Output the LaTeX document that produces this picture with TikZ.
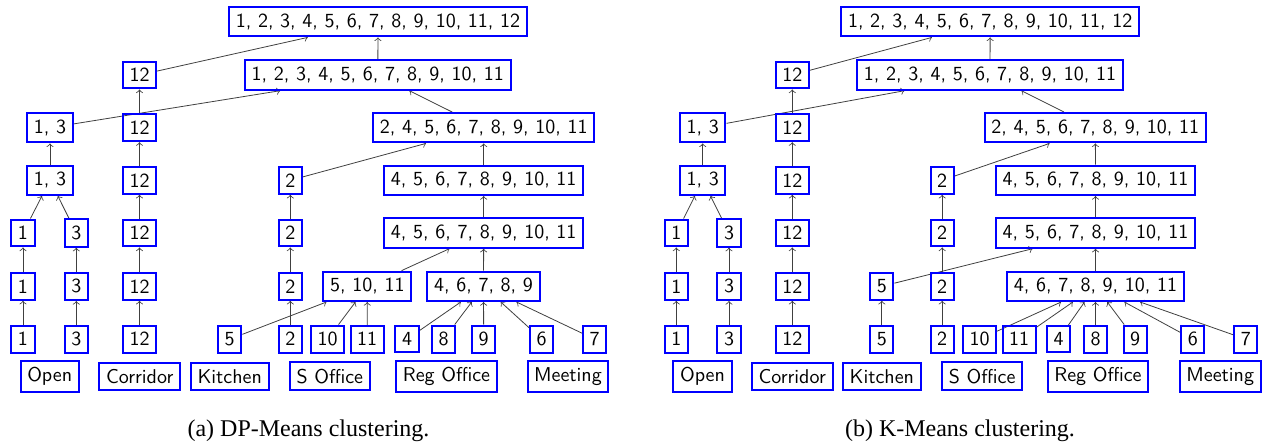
\documentclass[tikz,border=0pt]{standalone}
\usepackage{fontspec}
\newfontfamily\capfont{Liberation Serif}
\usepackage{tikz}
\usetikzlibrary{arrows,backgrounds}

\begin{document}
\begin{tikzpicture}[x=0.5pt,y=-0.5pt,
  clbox/.style={draw=blue,line width=1pt,font=\sffamily},
  link/.style={->,draw=black!75}]
\useasboundingbox (0,0) rectangle (1263,447);

% (a) DP-Means
\node[clbox] (aR) at (378,21.7) {1, 2, 3, 4, 5, 6, 7, 8, 9, 10, 11, 12};
\node[clbox] (aS) at (377.8,75) {1, 2, 3, 4, 5, 6, 7, 8, 9, 10, 11};
\node[clbox] (a12a) at (139.5,75) {12};
\node[clbox] (a13a) at (50,127.7) {1, 3};
\node[clbox] (a12b) at (139.5,127.7) {12};
\node[clbox] (aT) at (483.7,127.7) {2, 4, 5, 6, 7, 8, 9, 10, 11};
\node[clbox] (a13b) at (50,180.3) {1, 3};
\node[clbox] (a12c) at (139.5,180.3) {12};
\node[clbox] (a2a) at (290.3,180.3) {2};
\node[clbox] (aU) at (483.7,180.3) {4, 5, 6, 7, 8, 9, 10, 11};
\node[clbox] (a1a) at (23,233) {1};
\node[clbox] (a3a) at (76.3,233) {3};
\node[clbox] (a12d) at (139.5,233) {12};
\node[clbox] (a2b) at (290.3,233) {2};
\node[clbox] (aV) at (483.7,233) {4, 5, 6, 7, 8, 9, 10, 11};
\node[clbox] (a1b) at (23,286.3) {1};
\node[clbox] (a3b) at (76.3,286.3) {3};
\node[clbox] (a12e) at (139.5,286.3) {12};
\node[clbox] (a2c) at (290.3,286.3) {2};
\node[clbox] (aW) at (367.3,286.3) {5, 10, 11};
\node[clbox] (aX) at (483.5,286.3) {4, 6, 7, 8, 9};
\node[clbox] (a1c) at (23,339.2) {1};
\node[clbox] (a3c) at (76.3,339.2) {3};
\node[clbox] (a12f) at (139.5,339.2) {12};
\node[clbox] (a5) at (229.7,339.2) {5};
\node[clbox] (a2d) at (290.3,339.2) {2};
\node[clbox] (a10) at (327.5,339.2) {10};
\node[clbox] (a11) at (367.2,339.2) {11};
\node[clbox] (a4) at (407,339.2) {4};
\node[clbox] (a8) at (443.7,339.2) {8};
\node[clbox] (a9) at (483.7,339.2) {9};
\node[clbox] (a6) at (541.7,339.2) {6};
\node[clbox] (a7) at (594.7,339.2) {7};
\node[clbox] (aOpen) at (49.7,376.4) {Open};
\node[clbox] (aCorr) at (139.7,376.4) {Corridor};
\node[clbox] (aKit) at (229.7,376.4) {Kitchen};
\node[clbox] (aSOff) at (329.8,376.4) {S Office};
\node[clbox] (aReg) at (446.5,376.4) {Reg Office};
\node[clbox] (aMeet) at (568,376.4) {Meeting};

\begin{scope}[on background layer]
\draw[link] (a1c) -- (a1b); \draw[link] (a1b) -- (a1a); \draw[link] (a1a) -- (a13b);
\draw[link] (a3c) -- (a3b); \draw[link] (a3b) -- (a3a); \draw[link] (a3a) -- (a13b);
\draw[link] (a13b) -- (a13a); \draw[link] (a13a) -- (aS);
\draw[link] (a12f) -- (a12e); \draw[link] (a12e) -- (a12d); \draw[link] (a12d) -- (a12c);
\draw[link] (a12c) -- (a12b); \draw[link] (a12b) -- (a12a); \draw[link] (a12a) -- (aR);
\draw[link] (a2d) -- (a2c); \draw[link] (a2c) -- (a2b); \draw[link] (a2b) -- (a2a);
\draw[link] (a2a) -- (aT);
\draw[link] (a5) -- (aW); \draw[link] (a10) -- (aW); \draw[link] (a11) -- (aW);
\draw[link] (a4) -- (aX); \draw[link] (a8) -- (aX); \draw[link] (a9) -- (aX);
\draw[link] (a6) -- (aX); \draw[link] (a7) -- (aX);
\draw[link] (aW) -- (aV); \draw[link] (aX) -- (aV); \draw[link] (aV) -- (aU);
\draw[link] (aU) -- (aT); \draw[link] (aT) -- (aS); \draw[link] (aS) -- (aR);
\end{scope}

% (b) K-Means
\node[clbox] (bR) at (990.2,21.7) {1, 2, 3, 4, 5, 6, 7, 8, 9, 10, 11, 12};
\node[clbox] (bS) at (990,75) {1, 2, 3, 4, 5, 6, 7, 8, 9, 10, 11};
\node[clbox] (b12a) at (792.3,75) {12};
\node[clbox] (b13a) at (702.7,127.7) {1, 3};
\node[clbox] (b12b) at (792.3,127.7) {12};
\node[clbox] (bT) at (1095.3,127.7) {2, 4, 5, 6, 7, 8, 9, 10, 11};
\node[clbox] (b13b) at (702.7,180.3) {1, 3};
\node[clbox] (b12c) at (792.3,180.3) {12};
\node[clbox] (b2a) at (942.2,180.3) {2};
\node[clbox] (bU) at (1095.5,180.3) {4, 5, 6, 7, 8, 9, 10, 11};
\node[clbox] (b1a) at (676.3,233) {1};
\node[clbox] (b3a) at (729,233) {3};
\node[clbox] (b12d) at (792.3,233) {12};
\node[clbox] (b2b) at (942.2,233) {2};
\node[clbox] (bV) at (1095.5,233) {4, 5, 6, 7, 8, 9, 10, 11};
\node[clbox] (b1b) at (676.3,286.3) {1};
\node[clbox] (b3b) at (729,286.3) {3};
\node[clbox] (b12e) at (792.3,286.3) {12};
\node[clbox] (b5a) at (881.8,286.3) {5};
\node[clbox] (b2c) at (942.2,286.3) {2};
\node[clbox] (bX) at (1095.5,286.3) {4, 6, 7, 8, 9, 10, 11};
\node[clbox] (b1c) at (676.3,339.2) {1};
\node[clbox] (b3c) at (729,339.2) {3};
\node[clbox] (b12f) at (792.3,339.2) {12};
\node[clbox] (b5b) at (881.8,339.2) {5};
\node[clbox] (b2d) at (942.2,339.2) {2};
\node[clbox] (b10) at (979.5,339.2) {10};
\node[clbox] (b11) at (1019.2,339.2) {11};
\node[clbox] (b4) at (1058.5,339.2) {4};
\node[clbox] (b8) at (1095.5,339.2) {8};
\node[clbox] (b9) at (1135.2,339.2) {9};
\node[clbox] (b6) at (1192.8,339.2) {6};
\node[clbox] (b7) at (1245.8,339.2) {7};
\node[clbox] (bOpen) at (702.5,376.4) {Open};
\node[clbox] (bCorr) at (792.2,376.4) {Corridor};
\node[clbox] (bKit) at (881.8,376.4) {Kitchen};
\node[clbox] (bSOff) at (982.2,376.4) {S Office};
\node[clbox] (bReg) at (1098,376.4) {Reg Office};
\node[clbox] (bMeet) at (1220.2,376.4) {Meeting};

\begin{scope}[on background layer]
\draw[link] (b1c) -- (b1b); \draw[link] (b1b) -- (b1a); \draw[link] (b1a) -- (b13b);
\draw[link] (b3c) -- (b3b); \draw[link] (b3b) -- (b3a); \draw[link] (b3a) -- (b13b);
\draw[link] (b13b) -- (b13a); \draw[link] (b13a) -- (bS);
\draw[link] (b12f) -- (b12e); \draw[link] (b12e) -- (b12d); \draw[link] (b12d) -- (b12c);
\draw[link] (b12c) -- (b12b); \draw[link] (b12b) -- (b12a); \draw[link] (b12a) -- (bR);
\draw[link] (b5b) -- (b5a); \draw[link] (b5a) -- (bV);
\draw[link] (b2d) -- (b2c); \draw[link] (b2c) -- (b2b); \draw[link] (b2b) -- (b2a);
\draw[link] (b2a) -- (bT);
\draw[link] (b10) -- (bX); \draw[link] (b11) -- (bX); \draw[link] (b4) -- (bX);
\draw[link] (b8) -- (bX); \draw[link] (b9) -- (bX); \draw[link] (b6) -- (bX);
\draw[link] (b7) -- (bX);
\draw[link] (bX) -- (bV); \draw[link] (bV) -- (bU);
\draw[link] (bU) -- (bT); \draw[link] (bT) -- (bS); \draw[link] (bS) -- (bR);
\end{scope}

% captions
\node[font=\capfont\fontsize{12}{14}\selectfont] (capA) at (308.5,431) {(a) DP-Means clustering.};
\node[font=\capfont\fontsize{12}{14}\selectfont] (capB) at (960,431) {(b) K-Means clustering.};
\end{tikzpicture}
\end{document}
